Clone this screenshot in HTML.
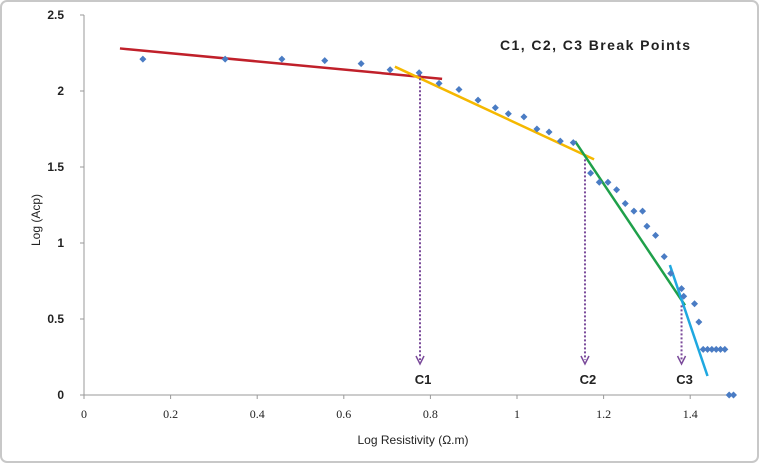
<!DOCTYPE html>
<html><head><meta charset="utf-8"><style>
html,body{margin:0;padding:0;background:#fff;}
svg{display:block;font-family:"Liberation Sans",sans-serif;}
</style></head><body>
<svg id="chart" width="759" height="463">
<rect x="1" y="1" width="757" height="461" rx="6" fill="#fff" stroke="#c8c8c8" stroke-width="2"/>
<g id="axes"></g><g id="fits"></g><g id="pts"></g><g id="marks"></g>
<text x="500" y="50" font-size="14" font-weight="bold" fill="#222" textLength="190">C1, C2, C3 Break Points</text>
<text x="413" y="444" font-size="12" text-anchor="middle" fill="#222">Log  Resistivity (Ω.m)</text>
<text transform="translate(40,220) rotate(-90)" font-size="12" text-anchor="middle" fill="#222">Log (Acp)</text>
</svg>
<script>
const xTicks=[0,0.2,0.4,0.6,0.8,1,1.2,1.4];
const xTickLabels=["0","0.2","0.4","0.6","0.8","1","1.2","1.4"];
const yTicks=[0,0.5,1,1.5,2,2.5];
const yTickLabels=["0","0.5","1","1.5","2","2.5"];
const ptX=[0.136,0.326,0.457,0.556,0.64,0.707,0.774,0.82,0.866,0.91,0.95,0.98,1.016,1.046,1.074,1.10,1.13,1.17,1.19,1.21,1.23,1.25,1.27,1.29,1.30,1.32,1.34,1.355,1.38,1.385,1.41,1.42,1.43,1.44,1.45,1.46,1.47,1.48,1.49,1.50];
const ptY=[2.21,2.21,2.21,2.20,2.18,2.14,2.12,2.05,2.01,1.94,1.89,1.85,1.83,1.75,1.73,1.67,1.66,1.46,1.40,1.40,1.35,1.26,1.21,1.21,1.11,1.05,0.91,0.80,0.70,0.65,0.60,0.48,0.30,0.30,0.30,0.30,0.30,0.30,0,0];
const fitNames=["red-fit-line","yellow-fit-line","green-fit-line","cyan-fit-line"];
const fitX1=[0.083,0.718,1.134,1.353];
const fitY1=[2.28,2.16,1.67,0.855];
const fitX2=[0.827,1.178,1.388,1.44];
const fitY2=[2.08,1.55,0.59,0.125];
const fitColors=["#c0202a","#f5b800","#1fa04a","#1fa8e0"];
const breakNames=["C1","C2","C3"];
const breakX=[0.776,1.157,1.38];
const breakTop=[2.11,1.55,0.59];
const X=v=>84+v*433, Y=v=>395-v*152;
const NS="http://www.w3.org/2000/svg";
function mk(parent,tag,attrs,text){const e=document.createElementNS(NS,tag);for(const k in attrs)e.setAttribute(k,attrs[k]);if(text!=null)e.textContent=text;document.getElementById(parent).appendChild(e);return e;}
let e;
e=mk("axes","line",{x1:X(0),y1:Y(0),x2:X(1.5),y2:Y(0),stroke:"#999","stroke-width":1});


e=mk("axes","line",{x1:X(0),y1:Y(0),x2:X(0),y2:Y(2.5),stroke:"#999","stroke-width":1});


xTicks.forEach((t,i)=>{
 mk("axes","line",{x1:X(t),y1:Y(0),x2:X(t),y2:Y(0)+4,stroke:"#999"});
 e=mk("axes","text",{x:X(t),y:418,"font-size":12,"text-anchor":"middle","font-family":"Liberation Serif, serif",fill:"#222"},xTickLabels[i]);
 
 
});
yTicks.forEach((t,i)=>{
 mk("axes","line",{x1:X(0)-4,y1:Y(t),x2:X(0),y2:Y(t),stroke:"#999"});
 e=mk("axes","text",{x:X(0)-20,y:Y(t)+4,"font-size":12,"font-weight":"bold","text-anchor":"end",fill:"#222"},yTickLabels[i]);
 
 
});
fitX1.forEach((x,i)=>{
 e=mk("fits","line",{x1:X(x),y1:Y(fitY1[i]),x2:X(fitX2[i]),y2:Y(fitY2[i]),stroke:fitColors[i],"stroke-width":2.5});
 
 
});
ptX.forEach((x,i)=>{
 const cx=X(x),cy=Y(ptY[i]);
 e=mk("pts","polygon",{points:`${cx},${cy-3.5} ${cx+3.5},${cy} ${cx},${cy+3.5} ${cx-3.5},${cy}`,fill:"#4a7cc4"});
 
 
});
breakX.forEach((x,i)=>{
 const px=X(x);
 e=mk("marks","line",{x1:px,y1:Y(breakTop[i]),x2:px,y2:360,stroke:"#7a4a9a","stroke-width":2,"stroke-dasharray":"2,2"});
 
 
 mk("marks","path",{d:`M${px-4},356 L${px},364 L${px+4},356`,fill:"none",stroke:"#7a4a9a","stroke-width":1.5});
 e=mk("marks","text",{x:px+3,y:384,"font-size":13,"font-weight":"bold","text-anchor":"middle",fill:"#222"},breakNames[i]);
 
 
});
</script>
</body></html>
